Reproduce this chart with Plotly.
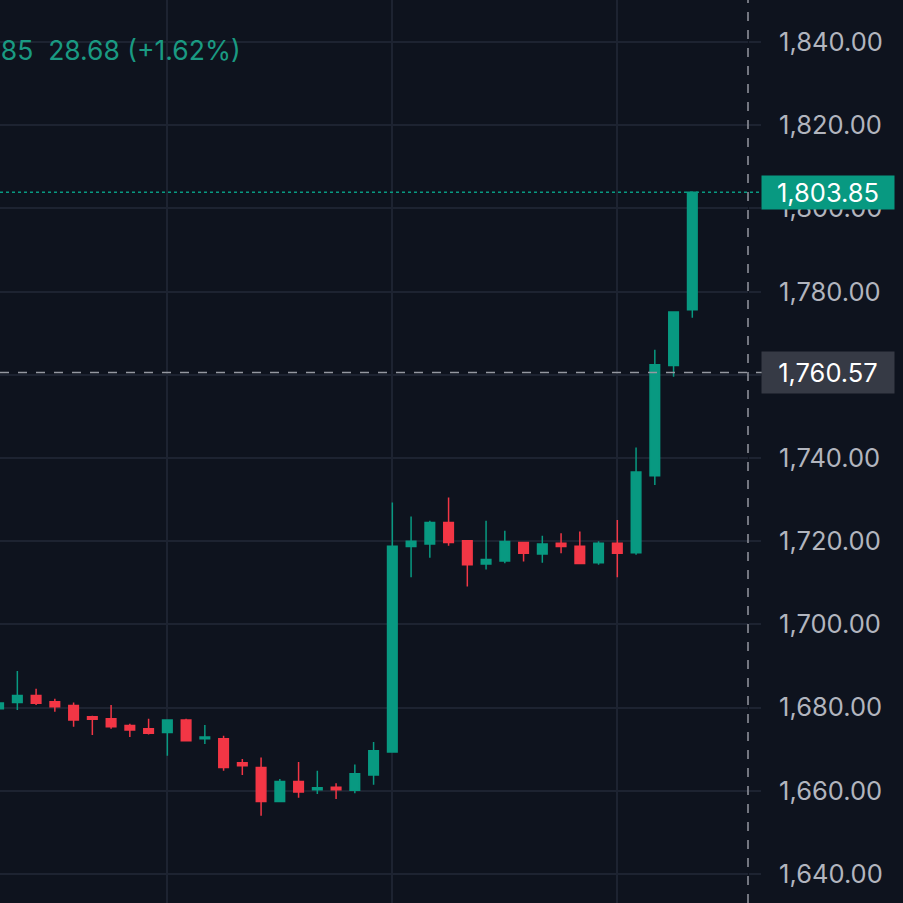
import plotly.graph_objects as go

# candle index (15 bars apart in time, unlabeled)
idx = list(range(38))
opens = [1679.7, 1681.2, 1682.9, 1681.4, 1680.5, 1677.8, 1677.3, 1675.7, 1674.9, 1674.0,
         1677.0, 1672.5, 1672.5, 1666.7, 1665.6, 1657.4, 1662.2, 1660.2, 1660.8, 1660.1,
         1663.8, 1669.3, 1718.7, 1719.3, 1724.5, 1720.1, 1714.5, 1715.2, 1719.7, 1716.9,
         1719.5, 1718.8, 1714.8, 1719.5, 1717.2, 1735.7, 1762.2, 1775.6]
highs = [1681.5, 1688.8, 1684.5, 1682.1, 1681.2, 1678.0, 1680.6, 1676.1, 1677.3, 1677.1,
         1677.3, 1675.8, 1673.2, 1667.6, 1668.0, 1662.8, 1666.9, 1664.8, 1661.8, 1666.3,
         1671.7, 1729.3, 1725.9, 1724.9, 1730.5, 1720.2, 1724.9, 1722.5, 1719.8, 1721.3,
         1721.9, 1722.3, 1720.0, 1725.1, 1742.5, 1766.0, 1775.2, 1803.9]
lows = [1679.5, 1679.4, 1680.6, 1679.0, 1675.4, 1673.4, 1674.9, 1672.9, 1673.5, 1668.4,
        1671.9, 1671.2, 1664.8, 1663.8, 1654.0, 1657.2, 1658.3, 1659.2, 1658.0, 1659.4,
        1661.4, 1669.1, 1711.3, 1716.0, 1718.9, 1709.1, 1713.2, 1714.7, 1715.1, 1714.8,
        1717.1, 1714.5, 1714.3, 1711.3, 1716.7, 1733.5, 1759.5, 1773.7]
closes = [1681.1, 1682.9, 1681.0, 1680.2, 1677.0, 1677.2, 1675.4, 1674.6, 1673.8, 1677.0,
          1672.0, 1672.9, 1665.6, 1666.0, 1657.4, 1662.2, 1659.7, 1660.7, 1660.2, 1664.1,
          1669.6, 1718.8, 1720.0, 1724.5, 1719.7, 1714.3, 1715.6, 1719.9, 1717.1, 1719.3,
          1718.7, 1714.6, 1719.5, 1717.1, 1736.6, 1762.4, 1775.1, 1803.85]

y_ticks = [1640, 1660, 1680, 1700, 1720, 1740, 1760, 1780, 1800, 1820, 1840]
# 1,760.00 is fully covered by the crosshair label in the original
y_ticktext = ["1,640.00", "1,660.00", "1,680.00", "1,700.00", "1,720.00", "1,740.00", "",
              "1,780.00", "1,800.00", "1,820.00", "1,840.00"]
grid_x = [9, 21, 33]
last_price = 1803.85
cross_price = 1760.57
header_text = "1,803.85  28.68 (+1.62%)"

BG = "#0e131e"
GRID = "#1d2331"
GREEN = "#089981"
RED = "#f23645"
LABEL = "#b2b5be"
FONT = "Inter"

W = 903
XR = 748 / W

fig = go.Figure(go.Candlestick(
    x=idx, open=opens, high=highs, low=lows, close=closes,
    increasing=dict(line=dict(color=GREEN, width=1.5), fillcolor=GREEN),
    decreasing=dict(line=dict(color=RED, width=1.5), fillcolor=RED),
    whiskerwidth=0, hoverinfo="skip",
))

fig.update_layout(
    width=903, height=903,
    margin=dict(l=0, r=0, t=0, b=0),
    paper_bgcolor=BG, plot_bgcolor=BG,
    showlegend=False,
    boxgap=0.27,
    font=dict(family=FONT, color=LABEL, size=25),
    xaxis=dict(domain=[0, XR], range=[0.075, 39.97], rangeslider=dict(visible=False),
               tickvals=grid_x, showticklabels=False, showgrid=True, gridcolor=GRID,
               gridwidth=1.5, zeroline=False, showline=False, ticks=""),
    yaxis=dict(side="right", range=[1633.0, 1850.1], tickvals=y_ticks, ticktext=y_ticktext,
               showgrid=True, gridcolor=GRID, gridwidth=1.5,
               zeroline=False, showline=False, ticks="outside", ticklen=12,
               tickcolor=GRID, tickwidth=1.5, ticklabelstandoff=13,
               tickfont=dict(family=FONT, size=25.5, color=LABEL)),
)

# last-price dotted line
fig.add_shape(type="line", xref="paper", yref="y", x0=0, x1=762 / W,
              y0=last_price, y1=last_price, line=dict(color=GREEN, width=1.5, dash="dot"))
# crosshair horizontal
fig.add_shape(type="line", xref="paper", yref="y", x0=0, x1=762 / W,
              y0=cross_price, y1=cross_price, line=dict(color="#9598a1", width=1.5, dash="dash"))
# crosshair vertical
fig.add_shape(type="line", xref="paper", yref="paper", x0=XR, x1=XR,
              y0=0, y1=1, line=dict(color="#9598a1", width=1.5, dash="dash"))

# price labels
fig.add_annotation(xref="paper", yref="y", x=828 / W, y=last_price,
                   text=f"{last_price:,.2f}", showarrow=False, xanchor="center", yanchor="middle",
                   bgcolor=GREEN, width=128, height=29, borderpad=2,
                   font=dict(family=FONT, size=25.5, color="#ffffff"))
fig.add_annotation(xref="paper", yref="y", x=828 / W, y=cross_price,
                   text=f"{cross_price:,.2f}", showarrow=False, xanchor="center", yanchor="middle",
                   bgcolor="#363a45", width=128, height=37, borderpad=2,
                   font=dict(family=FONT, size=25.5, color="#ffffff"))

# header (clipped at left edge like the original)
fig.add_annotation(xref="paper", yref="paper", x=243 / W, y=1 - 50 / 903,
                   text=header_text, showarrow=False, xanchor="right", yanchor="middle",
                   font=dict(family=FONT, size=26.5, color="#1a9a82"))

fig.write_html("out.html")
